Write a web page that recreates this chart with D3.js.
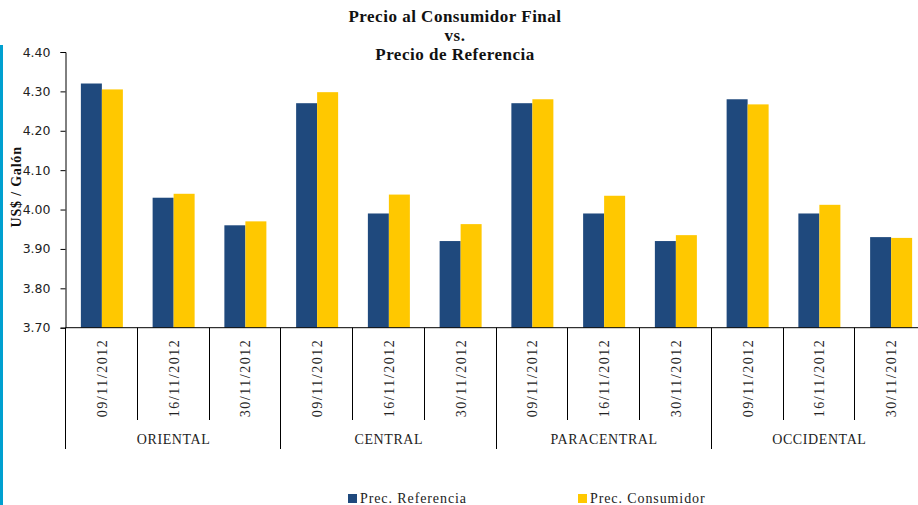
<!DOCTYPE html>
<html>
<head>
<meta charset="utf-8">
<script src="https://cdn.jsdelivr.net/npm/d3@7"></script>
<style>
  body { margin: 0; background: #fff; }
  svg { display: block; }
</style>
</head>
<body>
<script>
"use strict";

// Data
var regions = ["ORIENTAL", "CENTRAL", "PARACENTRAL", "OCCIDENTAL"];
var dates = ["09/11/2012", "16/11/2012", "30/11/2012"];
var precReferencia = [4.32, 4.03, 3.96, 4.27, 3.99, 3.92, 4.27, 3.99, 3.92, 4.28, 3.99, 3.93];
var precConsumidor = [4.305, 4.04, 3.97, 4.298, 4.038, 3.963, 4.28, 4.035, 3.935, 4.267, 4.012, 3.928];
var yTicks = [3.70, 3.80, 3.90, 4.00, 4.10, 4.20, 4.30, 4.40];
var seriesNames = ["Prec. Referencia", "Prec. Consumidor"];
var colors = ["#1f497d", "#ffc800"];

var width = 918, height = 505;
var plotLeft = 66, plotRight = 927, plotTop = 52, plotBottom = 327.7;

var svg = d3.select("body").append("svg")
    .attr("width", width)
    .attr("height", height);

// Left accent stripe
svg.append("rect")
    .attr("x", 0).attr("y", 45)
    .attr("width", 3).attr("height", height - 45)
    .attr("fill", "#00a0d0");

// Build one row per category (region x date)
var rows = [];
regions.forEach(function(r, i) {
  dates.forEach(function(d, j) {
    var k = i * dates.length + j;
    rows.push({key: k, region: r, date: d, values: [precReferencia[k], precConsumidor[k]]});
  });
});

var x = d3.scaleBand()
    .domain(rows.map(function(d) { return d.key; }))
    .range([plotLeft, plotRight])
    .paddingInner(0)
    .paddingOuter(0);

var y = d3.scaleLinear()
    .domain([3.70, 4.40])
    .range([plotBottom, plotTop]);

var barW = 21;

// Bars
var groups = svg.append("g").selectAll("g")
    .data(rows).enter().append("g")
    .attr("transform", function(d) { return "translate(" + (x(d.key) + x.bandwidth() / 2 - barW) + ",0)"; });

groups.selectAll("rect")
    .data(function(d) { return d.values; })
    .enter().append("rect")
    .attr("x", function(v, i) { return i * barW; })
    .attr("y", function(v) { return y(v); })
    .attr("width", barW)
    .attr("height", function(v) { return plotBottom - y(v); })
    .attr("fill", function(v, i) { return colors[i]; });

// Y axis
var yAxis = d3.axisLeft(y)
    .tickValues(yTicks)
    .tickSize(5)
    .tickPadding(10)
    .tickFormat(d3.format(".2f"));

var yg = svg.append("g")
    .attr("transform", "translate(" + (plotLeft - 0.5) + ",0)")
    .call(yAxis);
yg.select(".domain").attr("stroke", "#000");
yg.selectAll(".tick line").attr("stroke", "#000");
yg.selectAll("text")
    .attr("fill", "#222")
    .style("font-family", "DejaVu Sans, sans-serif")
    .style("font-size", "12.5px");

// X axis line
svg.append("line")
    .attr("x1", plotLeft - 0.5).attr("x2", width)
    .attr("y1", plotBottom).attr("y2", plotBottom)
    .attr("stroke", "#000");

// Category dividers
var divG = svg.append("g").attr("stroke", "#000");
rows.forEach(function(d, k) {
  var xx = Math.round(x(d.key)) - 0.5;
  var isGroup = k % dates.length === 0;
  divG.append("line")
      .attr("x1", xx).attr("x2", xx)
      .attr("y1", plotBottom).attr("y2", isGroup ? 449 : 420);
});

// Date labels (rotated)
svg.append("g").selectAll("text")
    .data(rows).enter().append("text")
    .attr("transform", function(d) {
      return "translate(" + (x(d.key) + x.bandwidth() / 2 + 5) + ",378) rotate(-90)";
    })
    .attr("text-anchor", "middle")
    .style("font-family", "Liberation Serif, serif")
    .style("font-size", "14px")
    .style("letter-spacing", "1.5px")
    .attr("fill", "#222")
    .text(function(d) { return d.date; });

// Region labels
svg.append("g").selectAll("text")
    .data(regions).enter().append("text")
    .attr("x", function(r, i) {
      return x(i * dates.length) + x.bandwidth() * dates.length / 2;
    })
    .attr("y", 444)
    .attr("text-anchor", "middle")
    .style("font-family", "Liberation Serif, serif")
    .style("font-size", "14px")
    .style("letter-spacing", "0.6px")
    .attr("fill", "#222")
    .text(function(d) { return d; });

// Y axis title
svg.append("text")
    .attr("transform", "translate(21," + ((plotTop + plotBottom) / 2 - 3) + ") rotate(-90)")
    .attr("text-anchor", "middle")
    .style("font-family", "Liberation Serif, serif")
    .style("font-weight", "bold")
    .style("font-size", "14px")
    .style("letter-spacing", "0.8px")
    .attr("fill", "#111")
    .text("US$ / Galón");

// Title
var titleLines = ["Precio al Consumidor Final", "vs.", "Precio de Referencia"];
svg.append("g").selectAll("text")
    .data(titleLines).enter().append("text")
    .attr("x", 455)
    .attr("y", function(d, i) { return 22 + i * 19; })
    .attr("text-anchor", "middle")
    .style("font-family", "Liberation Serif, serif")
    .style("font-weight", "bold")
    .style("font-size", "17px")
    .style("letter-spacing", "0.5px")
    .attr("fill", "#111")
    .text(function(d) { return d; });

// Legend
var legendX = [348, 578];
var lg = svg.append("g").selectAll("g")
    .data(seriesNames).enter().append("g")
    .attr("transform", function(d, i) { return "translate(" + legendX[i] + ",494)"; });
lg.append("rect")
    .attr("width", 9).attr("height", 9)
    .attr("fill", function(d, i) { return colors[i]; });
lg.append("text")
    .attr("x", 12).attr("y", 9)
    .style("font-family", "Liberation Serif, serif")
    .style("font-size", "14px")
    .style("letter-spacing", "0.9px")
    .attr("fill", "#222")
    .text(function(d) { return d; });
</script>
</body>
</html>
